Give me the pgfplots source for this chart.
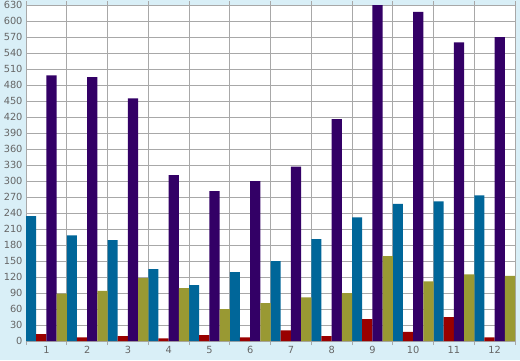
\documentclass[border=0pt]{standalone}
\usepackage{pgfplots}
\pgfplotsset{compat=1.18}
\usepackage{fontspec}
\setmainfont{DejaVu Sans}
\definecolor{bgblue}{HTML}{D9EFF7}
\definecolor{gridgray}{HTML}{A8A8A8}
\definecolor{labgray}{HTML}{666666}
\definecolor{cTeal}{HTML}{006699}
\definecolor{cRed}{HTML}{990000}
\definecolor{cPurple}{HTML}{330066}
\definecolor{cOlive}{HTML}{999933}
\begin{document}
\begin{tikzpicture}[x=1bp,y=1bp]
\fill[bgblue] (0,0) rectangle (520,360);
\path[use as bounding box] (0,0) rectangle (520,360);
\begin{axis}[
  at={(26bp,19bp)}, anchor=south west,
  scale only axis, width=489bp, height=336bp,
  xmin=0.5, xmax=12.5, ymin=0, ymax=630,
  ytick={0,30,...,630},
  xtick={1,...,12},
  minor xtick={0.5,1.5,...,12.5},
  ymajorgrids, xminorgrids,
  grid style={gridgray, line width=0.75bp},
  minor grid style={gridgray, line width=0.75bp},
  axis line style={gridgray, line width=0.75bp},
  major tick length=0pt,
  minor tick length=4bp,
  tick align=outside,
  minor tick style={gridgray, line width=0.75bp},
  axis background/.style={fill=white},
  tick label style={font=\fontsize{9.8bp}{11bp}\selectfont, text=labgray},
  /pgf/number format/assume math mode=true,
  yticklabel style={xshift=0bp},
  xticklabel style={yshift=-2bp},
  ybar=0pt, bar width=0.25,
  clip=true,
]
\addplot[fill=cTeal, draw=none] coordinates {(1,234) (2,198) (3,189) (4,135) (5,105) (6,129) (7,150) (8,191) (9,232) (10,257) (11,262) (12,273)};
\addplot[fill=cRed, draw=none] coordinates {(1,13) (2,7) (3,9) (4,5) (5,11) (6,7) (7,20) (8,9) (9,41) (10,17) (11,45) (12,7)};
\addplot[fill=cPurple, draw=none] coordinates {(1,498) (2,495) (3,455) (4,311) (5,281) (6,300) (7,327) (8,416) (9,640) (10,617) (11,560) (12,570)};
\addplot[fill=cOlive, draw=none] coordinates {(1,89) (2,94) (3,118) (4,99) (5,60) (6,71) (7,82) (8,90) (9,159) (10,112) (11,125) (12,122)};
\end{axis}
\end{tikzpicture}
\end{document}
